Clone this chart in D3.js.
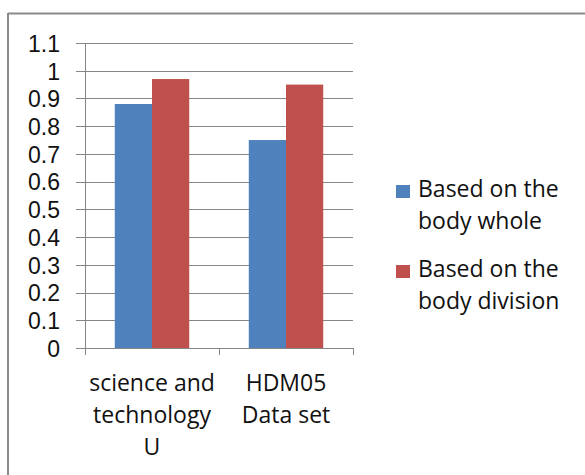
<!DOCTYPE html>
<html>
<head>
<meta charset="utf-8">
<script src="https://cdn.jsdelivr.net/npm/d3@7"></script>
<style>
  html, body { margin: 0; padding: 0; background: #fff; }
  svg { display: block; }
  text { font-family: "Open Sans", "Noto Sans", sans-serif; fill: #111; }
</style>
</head>
<body>
<svg id="chart" width="585" height="475"></svg>
<script>
// Data
const categories = [["science and", "technology", "U"], ["HDM05", "Data set"]];
const seriesNames = [["Based on the", "body whole"], ["Based on the", "body division"]];
const seriesColors = ["#4F81BD", "#C0504D"];
const bodyWhole = [0.88, 0.75];
const bodyDivision = [0.97, 0.95];
const yTicks = [0, 0.1, 0.2, 0.3, 0.4, 0.5, 0.6, 0.7, 0.8, 0.9, 1, 1.1];
const yTickLabels = ["0", "0.1", "0.2", "0.3", "0.4", "0.5", "0.6", "0.7", "0.8", "0.9", "1", "1.1"];

const series = [bodyWhole, bodyDivision];
const svg = d3.select("#chart");
const gridColor = "#868686";
const fontSize = 23;

// Outer frame (top and left edges)
svg.append("line").attr("x1", 8).attr("y1", 13.5).attr("x2", 585).attr("y2", 13.5)
  .attr("stroke", "#8a8a8a").attr("stroke-width", 2);
svg.append("line").attr("x1", 8).attr("y1", 13).attr("x2", 8).attr("y2", 475)
  .attr("stroke", "#8a8a8a").attr("stroke-width", 2);

// Plot area
const plot = { left: 85, right: 353, top: 43, bottom: 348 };

const x = d3.scaleBand()
  .domain(d3.range(categories.length))
  .range([plot.left, plot.right])
  .paddingInner(0).paddingOuter(0);

const inner = d3.scaleBand()
  .domain(d3.range(series.length))
  .range([0, x.bandwidth()])
  .paddingInner(0)
  .paddingOuter(0.8);

const y = d3.scaleLinear().domain([0, 1.1]).range([plot.bottom, plot.top]);

// Horizontal gridlines with short outside ticks
const gy = svg.append("g")
  .attr("transform", `translate(${plot.left},0)`)
  .call(d3.axisLeft(y).tickValues(yTicks)
    .tickSize(-(plot.right - plot.left)).tickSizeOuter(0)
    .tickFormat((d, i) => yTickLabels[i]));
gy.select(".domain").remove();
gy.selectAll(".tick line").attr("stroke", gridColor).attr("stroke-width", 1)
  .attr("x1", -9).attr("shape-rendering", "crispEdges");
gy.selectAll(".tick text")
  .attr("x", -25).attr("dy", "0.36em")
  .style("font-size", fontSize + "px")
  .style("font-family", "'Liberation Sans', Arial, sans-serif")
  .attr("fill", "#111");

// Vertical axis line
svg.append("line")
  .attr("x1", plot.left).attr("x2", plot.left)
  .attr("y1", plot.top).attr("y2", plot.bottom)
  .attr("stroke", gridColor).attr("shape-rendering", "crispEdges");

// Bars
const groups = svg.append("g").selectAll("g")
  .data(categories.map((c, i) => i))
  .join("g")
  .attr("transform", i => `translate(${x(i)},0)`);

groups.selectAll("rect")
  .data(i => series.map((s, k) => ({ k, v: s[i] })))
  .join("rect")
  .attr("x", d => inner(d.k))
  .attr("width", inner.bandwidth())
  .attr("y", d => y(d.v))
  .attr("height", d => y(0) - y(d.v))
  .attr("fill", d => seriesColors[d.k]);

// Category axis
svg.append("line")
  .attr("x1", plot.left - 9).attr("x2", plot.right)
  .attr("y1", plot.bottom).attr("y2", plot.bottom)
  .attr("stroke", gridColor).attr("shape-rendering", "crispEdges");
const boundaries = d3.range(categories.length + 1)
  .map(i => i < categories.length ? x(i) : x(i - 1) + x.bandwidth());
svg.append("g").selectAll("line")
  .data(boundaries)
  .join("line")
  .attr("x1", d => d).attr("x2", d => d)
  .attr("y1", plot.bottom).attr("y2", plot.bottom + 7)
  .attr("stroke", gridColor).attr("shape-rendering", "crispEdges");

// Category labels (wrapped lines)
const catText = svg.append("g").selectAll("text")
  .data(categories)
  .join("text")
  .attr("text-anchor", "middle")
  .style("font-size", fontSize + "px")
  .attr("transform", (d, i) => `translate(${x(i) + x.bandwidth() / 2},391)`);
catText.selectAll("tspan")
  .data(d => d)
  .join("tspan")
  .attr("x", 0)
  .attr("y", (d, j) => j * 32)
  .text(d => d);

// Legend
const legend = svg.append("g").attr("transform", "translate(396,197)");
const items = legend.selectAll("g")
  .data(seriesNames)
  .join("g")
  .attr("transform", (d, i) => `translate(0,${i * 80})`);
items.append("rect")
  .attr("x", 0).attr("y", -12)
  .attr("width", 14).attr("height", 13)
  .attr("fill", (d, i) => seriesColors[i]);
const lt = items.append("text").style("font-size", fontSize + "px");
lt.selectAll("tspan")
  .data(d => d)
  .join("tspan")
  .attr("x", 22)
  .attr("y", (d, j) => j * 31.5)
  .text(d => d);
</script>
</body>
</html>
